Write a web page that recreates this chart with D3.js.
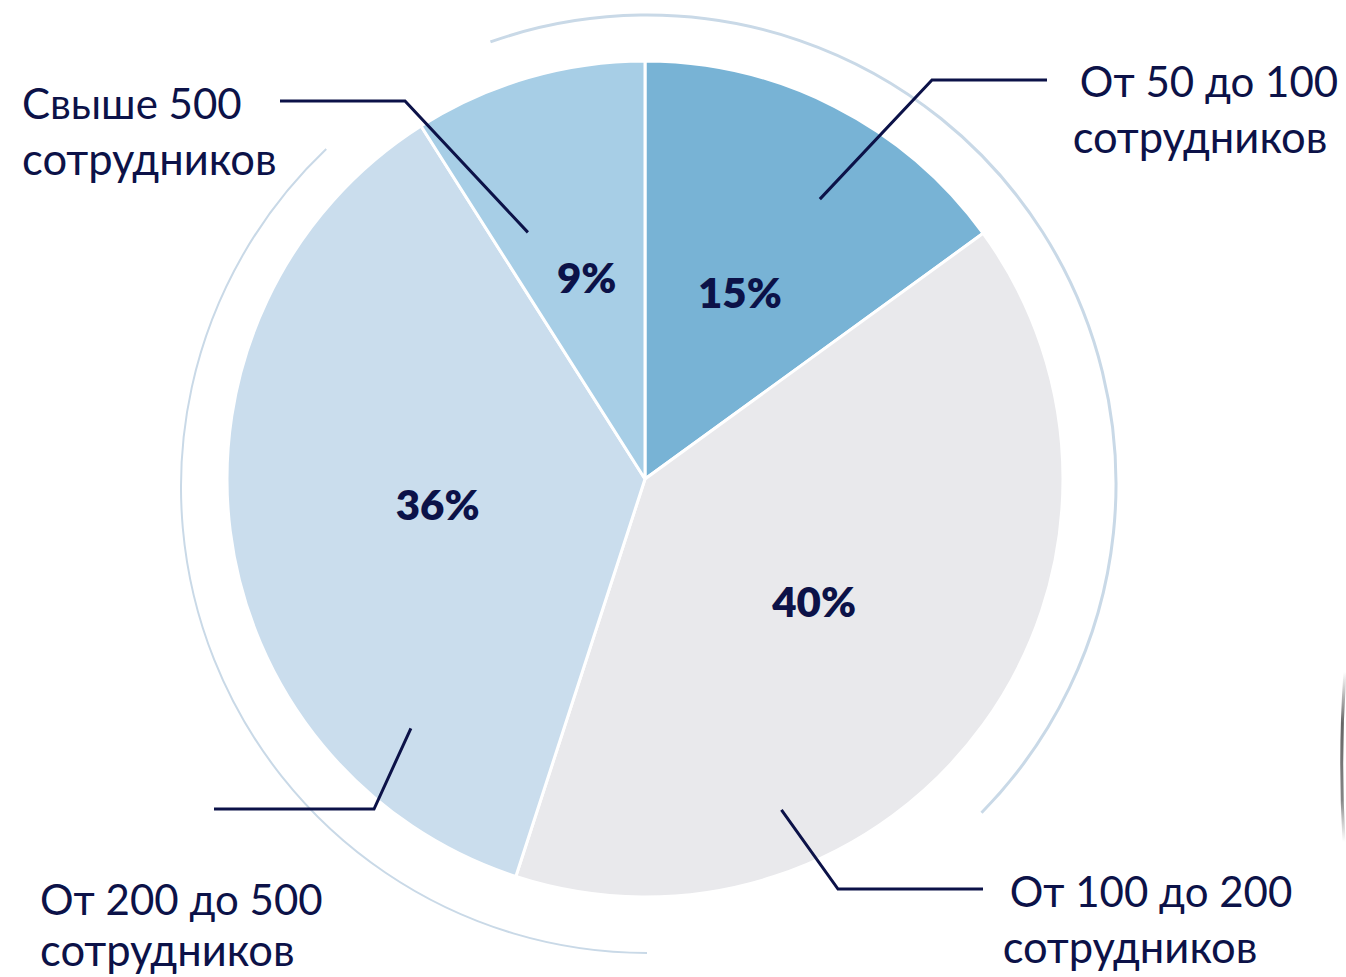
<!DOCTYPE html>
<html>
<head>
<meta charset="utf-8">
<script src="https://cdn.jsdelivr.net/npm/d3@7/dist/d3.min.js"></script>
<style>
  html, body { margin: 0; padding: 0; background: #ffffff; }
  svg { display: block; }
</style>
</head>
<body>
<svg id="chart" width="1346" height="977"></svg>
<script>
// ---- data ----
const categories = ["От 50 до 100", "От 100 до 200", "От 200 до 500", "Свыше 500"];
const subLabel = "сотрудников";
const values = [15, 40, 36, 9];
const percentLabels = ["15%", "40%", "36%", "9%"];

// ---- style ----
const palette = ["#78b3d5", "#e9e9ec", "#cadded", "#a7cee6"];
const navy = "#0c1248";
const ringColor = "#c9d9e7";

// ---- layout ----
const W = 1346, H = 977;
const cx = 645, cy = 479, R = 418;

// leader-line layout: pie-side anchor (angle in degrees, radius), elbow and end
const leaders = [
  { ang: 32,    r: 330, elbow: [932, 80],  end: [1047, 80] },
  { ang: 157.6, r: 358, elbow: [838, 889], end: [983, 889] },
  { ang: 223.2, r: 342, elbow: [374, 809], end: [214, 809] },
  { ang: 334.6, r: 273, elbow: [405, 101], end: [280, 101] }
];
// label text layout
const labelPos = [
  { anchor: "middle", x1: 1209, x2: 1200, y1: 97,  y2: 153 },
  { anchor: "middle", x1: 1151, x2: 1130, y1: 907, y2: 963 },
  { anchor: "start",  x1: 40,   x2: 40,   y1: 915, y2: 966 },
  { anchor: "start",  x1: 22,   x2: 22,   y1: 119, y2: 175 }
];

const svg = d3.select("#chart");

// outer decorative rings
const deg = Math.PI / 180;
function ringPath(x, y, r, a0, a1) {
  const p = d3.path();
  p.arc(x, y, r, (a0 - 90) * deg, (a1 - 90) * deg, false);
  return p.toString();
}
svg.append("path")
  .attr("d", ringPath(647, 484, 469, -19.5, 134.5))
  .attr("fill", "none").attr("stroke", ringColor).attr("stroke-width", 3);
svg.append("path")
  .attr("d", ringPath(647, 487, 466, 180, 316.5))
  .attr("fill", "none").attr("stroke", ringColor).attr("stroke-width", 2);

// right-edge artifact (shadow of adjacent object)
const grad = svg.append("defs").append("linearGradient")
  .attr("id", "edgeGrad").attr("x1", 0).attr("y1", 0).attr("x2", 0).attr("y2", 1);
grad.append("stop").attr("offset", "0%").attr("stop-color", "#555").attr("stop-opacity", 0);
grad.append("stop").attr("offset", "30%").attr("stop-color", "#555").attr("stop-opacity", 0.9);
grad.append("stop").attr("offset", "75%").attr("stop-color", "#666").attr("stop-opacity", 0.8);
grad.append("stop").attr("offset", "100%").attr("stop-color", "#777").attr("stop-opacity", 0);
svg.append("path")
  .attr("d", "M1345,672 Q1339,755 1344,842")
  .attr("fill", "none").attr("stroke", "url(#edgeGrad)").attr("stroke-width", 3);

// pie
const pie = d3.pie().sort(null).value(d => d)(values);
const arc = d3.arc().innerRadius(0).outerRadius(R);
const g = svg.append("g").attr("transform", `translate(${cx},${cy})`);

g.selectAll("path.slice")
  .data(pie)
  .join("path")
  .attr("class", "slice")
  .attr("d", arc)
  .attr("fill", (d, i) => palette[i])
  .attr("stroke", "#ffffff")
  .attr("stroke-width", 3)
  .attr("stroke-linejoin", "round");

// percent labels
g.selectAll("text.pct")
  .data(pie)
  .join("text")
  .attr("class", "pct")
  .attr("x", d => arc.centroid(d)[0])
  .attr("y", d => arc.centroid(d)[1])
  .attr("dy", "0.36em")
  .attr("text-anchor", "middle")
  .attr("font-family", "Lato, 'Open Sans', sans-serif")
  .attr("font-weight", 800)
  .attr("font-size", 42)
  .attr("fill", navy)
  .text((d, i) => percentLabels[i]);

// leader lines
svg.selectAll("path.leader")
  .data(leaders)
  .join("path")
  .attr("class", "leader")
  .attr("d", d => {
    const p = d3.pointRadial(d.ang * deg, d.r);
    return d3.line()([[cx + p[0], cy + p[1]], d.elbow, d.end]);
  })
  .attr("fill", "none")
  .attr("stroke", navy)
  .attr("stroke-width", 3);

// category labels
const lbl = svg.selectAll("g.lbl")
  .data(categories)
  .join("g")
  .attr("class", "lbl")
  .attr("font-family", "Lato, 'Open Sans', sans-serif")
  .attr("fill", navy);
lbl.append("text")
  .attr("x", (d, i) => labelPos[i].x1)
  .attr("y", (d, i) => labelPos[i].y1)
  .attr("text-anchor", (d, i) => labelPos[i].anchor)
  .attr("font-size", 42)
  .text(d => d);
lbl.append("text")
  .attr("x", (d, i) => labelPos[i].x2)
  .attr("y", (d, i) => labelPos[i].y2)
  .attr("text-anchor", (d, i) => labelPos[i].anchor)
  .attr("font-size", 43.5)
  .text(subLabel);
</script>
</body>
</html>
